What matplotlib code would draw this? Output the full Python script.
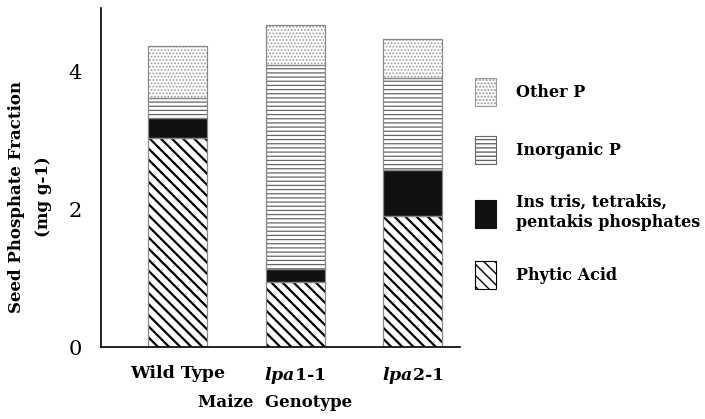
import matplotlib
matplotlib.use("Agg")
import matplotlib.pyplot as plt
import matplotlib.patches as mpatches
import numpy as np

genotypes = ["Wild Type", r"$\mathit{lpa}$1-1", r"$\mathit{lpa}$2-1"]
phytic_acid = [3.04, 0.94, 1.90]
ins_phosphates = [0.29, 0.20, 0.67]
inorganic_p = [0.29, 2.96, 1.34]
other_p = [0.76, 0.58, 0.57]

plt.rcParams["font.family"] = ["DejaVu Serif"]
plt.rcParams["mathtext.fontset"] = "custom"
plt.rcParams["mathtext.it"] = "DejaVu Serif:italic:bold"
plt.rcParams["mathtext.rm"] = "DejaVu Serif:bold"

fig = plt.figure(figsize=(7.05, 4.19), dpi=100)
ax = fig.add_axes([101 / 705, 72 / 419, 359 / 705, 339 / 419])

x = np.arange(len(genotypes))
width = 0.5

# (values, hatch, hatch colour, face colour, hatch linewidth)
layers = [
    (phytic_acid, "\\\\\\", "black", "white", 1.6),
    (ins_phosphates, "", "#111111", "#111111", 1.0),
    (inorganic_p, "----", "#666666", "white", 0.9),
    (other_p, ".....", "#999999", "white", 0.8),
]

bottom = np.zeros(len(genotypes))
for vals, hatch, hc, fc, hlw in layers:
    with plt.rc_context({"hatch.linewidth": hlw}):
        bars = ax.bar(x, vals, width, bottom=bottom, color=fc, edgecolor=hc,
                      hatch=hatch, linewidth=0)
        for b in bars:
            if hasattr(b, "set_hatch_linewidth"):
                b.set_hatch_linewidth(hlw)
    bottom = bottom + np.array(vals)

# outline round each stacked bar and separators
bottom = np.zeros(len(genotypes))
for vals, hatch, hc, fc, hlw in layers:
    ax.bar(x, vals, width, bottom=bottom, fill=False, edgecolor="#888888",
           linewidth=0.9)
    bottom = bottom + np.array(vals)

ax.set_xlim(-0.65, 2.40)
ax.set_ylim(0, 4.93)
ax.set_yticks([0, 2, 4])
ax.set_yticklabels(["0", "2", "4"], fontsize=15)
ax.set_xticks(x)
ax.set_xticklabels(genotypes, fontsize=12.5, fontweight="bold")
ax.tick_params(axis="x", length=0, pad=13)
ax.tick_params(axis="y", length=0, pad=14)
for s in ["top", "right"]:
    ax.spines[s].set_visible(False)
for s in ["left", "bottom"]:
    ax.spines[s].set_linewidth(1.2)

fig.text(30 / 705, 1 - 197 / 419, "Seed Phosphate Fraction\n(mg g-1)",
         rotation=90, ha="center", va="center", fontsize=12,
         fontweight="bold", linespacing=1.7, multialignment="center")
fig.text(275 / 705, 1 - 402 / 419, "Maize  Genotype", ha="center",
         va="center", fontsize=12, fontweight="bold")

labels = ["Phytic Acid", "Ins tris, tetrakis,\npentakis phosphates",
          "Inorganic P", "Other P"]
handles = []
for (vals, hatch, hc, fc, hlw), lab in zip(layers, labels):
    with plt.rc_context({"hatch.linewidth": hlw}):
        h = mpatches.Patch(facecolor=fc, edgecolor=hc, hatch=hatch,
                           linewidth=0.8, label=lab)
        if hasattr(h, "set_hatch_linewidth"):
            h.set_hatch_linewidth(hlw)
    handles.append(h)

fig.legend(handles[::-1], labels[::-1], loc="upper left",
           bbox_to_anchor=(475 / 705, 1 - 78 / 419), frameon=False,
           borderpad=0, borderaxespad=0, handlelength=1.31, handleheight=2.32,
           handletextpad=1.25, labelspacing=1.88,
           prop={"size": 11.5, "weight": "bold"})

fig.savefig("out.png", dpi=100)
